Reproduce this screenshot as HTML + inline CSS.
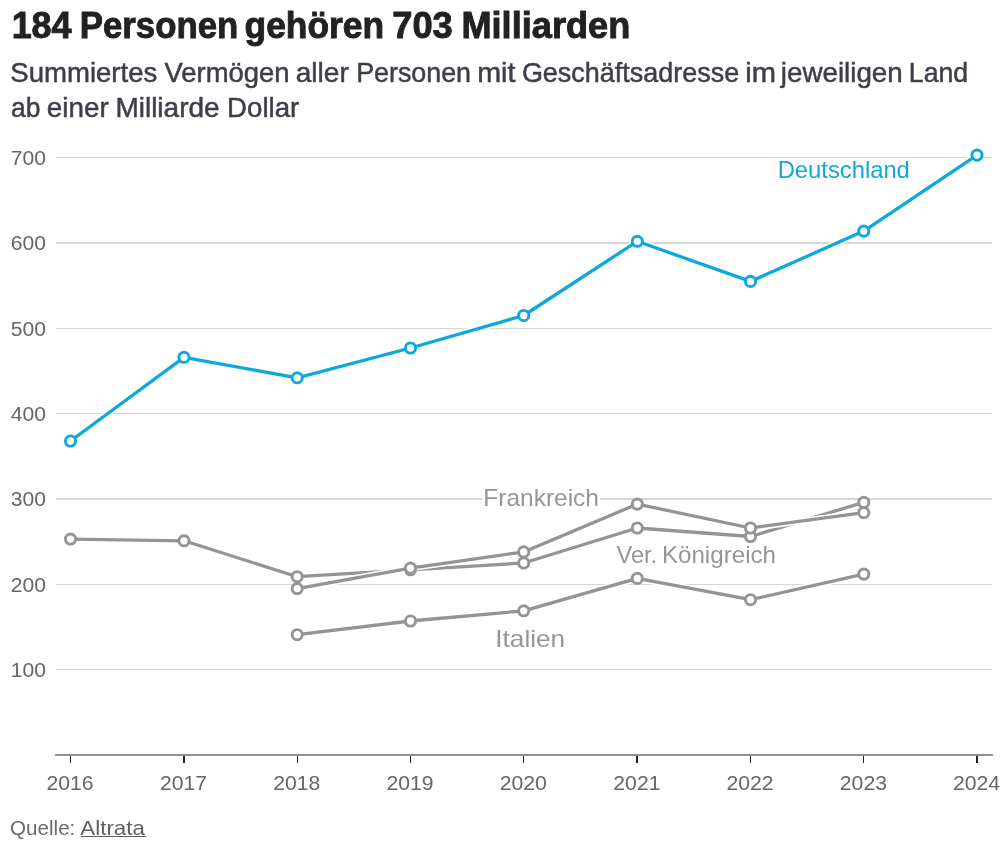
<!DOCTYPE html>
<html lang="de"><head><meta charset="utf-8"><title>184 Personen gehören 703 Milliarden</title>
<style>
html,body{margin:0;padding:0;background:#fff;}
body{width:1008px;height:841px;overflow:hidden;position:relative;font-family:"Liberation Sans",sans-serif;}
svg{position:absolute;left:0;top:0;display:block;}
text{font-family:"Liberation Sans",sans-serif;}
.ti{font-size:36.4px;font-weight:700;fill:#222;stroke:#222;stroke-width:.9px;}
.su{font-size:28px;fill:#3e3e49;stroke:#3e3e49;stroke-width:.5px;}
.ax{font-size:20px;fill:#666;}
.lb{font-size:24px;paint-order:stroke;stroke:#fff;stroke-width:6px;stroke-linejoin:round;}
.de{fill:#0ca8de;}
.gr{fill:#969696;}

.ft{font-size:19.8px;}
.q{fill:#6c6c6c;}
.a{fill:#5f5f5f;}
</style></head><body>
<svg width="1008" height="841" viewBox="0 0 1008 841">
<g id="header" role="heading">
<text id="t1" class="ti" x="11.64" y="38.00" textLength="59.94" lengthAdjust="spacingAndGlyphs">184</text>
<text id="t2" class="ti" x="79.75" y="38.00" textLength="158.51" lengthAdjust="spacingAndGlyphs">Personen</text>
<text id="t3" class="ti" x="244.52" y="38.00" textLength="139.61" lengthAdjust="spacingAndGlyphs">gehören</text>
<text id="t4" class="ti" x="392.27" y="38.00" textLength="60.48" lengthAdjust="spacingAndGlyphs">703</text>
<text id="t5" class="ti" x="461.41" y="38.00" textLength="168.92" lengthAdjust="spacingAndGlyphs">Milliarden</text>
<text id="s1" class="su" x="10.26" y="81.50" textLength="147.06" lengthAdjust="spacingAndGlyphs">Summiertes</text>
<text id="s2" class="su" x="164.50" y="81.50" textLength="124.97" lengthAdjust="spacingAndGlyphs">Vermögen</text>
<text id="s3" class="su" x="295.71" y="81.50" textLength="53.06" lengthAdjust="spacingAndGlyphs">aller</text>
<text id="s4" class="su" x="356.15" y="81.50" textLength="114.90" lengthAdjust="spacingAndGlyphs">Personen</text>
<text id="s5" class="su" x="477.15" y="81.50" textLength="38.25" lengthAdjust="spacingAndGlyphs">mit</text>
<text id="s6" class="su" x="521.92" y="81.50" textLength="217.23" lengthAdjust="spacingAndGlyphs">Geschäftsadresse</text>
<text id="s7" class="su" x="745.23" y="81.50" textLength="30.71" lengthAdjust="spacingAndGlyphs">im</text>
<text id="s8" class="su" x="780.85" y="81.50" textLength="121.88" lengthAdjust="spacingAndGlyphs">jeweiligen</text>
<text id="s9" class="su" x="908.81" y="81.50" textLength="59.33" lengthAdjust="spacingAndGlyphs">Land</text>
<text id="u1" class="su" x="11.09" y="117.30" textLength="29.40" lengthAdjust="spacingAndGlyphs">ab</text>
<text id="u2" class="su" x="46.75" y="117.30" textLength="61.92" lengthAdjust="spacingAndGlyphs">einer</text>
<text id="u3" class="su" x="115.41" y="117.30" textLength="104.20" lengthAdjust="spacingAndGlyphs">Milliarde</text>
<text id="u4" class="su" x="227.11" y="117.30" textLength="72.17" lengthAdjust="spacingAndGlyphs">Dollar</text>
</g>
<g id="chart">
<rect x="56" y="669" width="936" height="1" fill="#d6d6d6"/>
<text x="46.05" y="677.07" class="ax ay" text-anchor="end" textLength="35.20" lengthAdjust="spacingAndGlyphs">100</text>
<rect x="56" y="584" width="936" height="1" fill="#d6d6d6"/>
<text x="46.05" y="591.73" class="ax ay" text-anchor="end" textLength="35.20" lengthAdjust="spacingAndGlyphs">200</text>
<rect x="56" y="498" width="936" height="2" fill="#d6d6d6"/>
<text x="46.05" y="506.40" class="ax ay" text-anchor="end" textLength="35.20" lengthAdjust="spacingAndGlyphs">300</text>
<rect x="56" y="413" width="936" height="1" fill="#d6d6d6"/>
<text x="46.05" y="421.07" class="ax ay" text-anchor="end" textLength="35.20" lengthAdjust="spacingAndGlyphs">400</text>
<rect x="56" y="328" width="936" height="1" fill="#d6d6d6"/>
<text x="46.05" y="335.73" class="ax ay" text-anchor="end" textLength="35.20" lengthAdjust="spacingAndGlyphs">500</text>
<rect x="56" y="242" width="936" height="2" fill="#d6d6d6"/>
<text x="46.05" y="250.40" class="ax ay" text-anchor="end" textLength="35.20" lengthAdjust="spacingAndGlyphs">600</text>
<rect x="56" y="157" width="936" height="1" fill="#d6d6d6"/>
<text x="46.05" y="165.07" class="ax ay" text-anchor="end" textLength="35.20" lengthAdjust="spacingAndGlyphs">700</text>
<rect x="55" y="754" width="938" height="2" fill="#8e8e90"/>
<rect x="70" y="756" width="1" height="7" fill="#222"/>
<text x="70.0" y="790.1" class="ax axx" text-anchor="middle" textLength="47.10" lengthAdjust="spacingAndGlyphs">2016</text>
<rect x="183" y="756" width="2" height="7" fill="#222"/>
<text x="183.6" y="790.1" class="ax axx" text-anchor="middle" textLength="47.10" lengthAdjust="spacingAndGlyphs">2017</text>
<rect x="297" y="756" width="1" height="7" fill="#222"/>
<text x="296.8" y="790.1" class="ax axx" text-anchor="middle" textLength="47.10" lengthAdjust="spacingAndGlyphs">2018</text>
<rect x="410" y="756" width="1" height="7" fill="#222"/>
<text x="410.1" y="790.1" class="ax axx" text-anchor="middle" textLength="47.10" lengthAdjust="spacingAndGlyphs">2019</text>
<rect x="523" y="756" width="1" height="7" fill="#222"/>
<text x="523.3" y="790.1" class="ax axx" text-anchor="middle" textLength="47.10" lengthAdjust="spacingAndGlyphs">2020</text>
<rect x="636" y="756" width="2" height="7" fill="#222"/>
<text x="636.9" y="790.1" class="ax axx" text-anchor="middle" textLength="47.10" lengthAdjust="spacingAndGlyphs">2021</text>
<rect x="750" y="756" width="1" height="7" fill="#222"/>
<text x="750.1" y="790.1" class="ax axx" text-anchor="middle" textLength="47.10" lengthAdjust="spacingAndGlyphs">2022</text>
<rect x="863" y="756" width="1" height="7" fill="#222"/>
<text x="863.4" y="790.1" class="ax axx" text-anchor="middle" textLength="47.10" lengthAdjust="spacingAndGlyphs">2023</text>
<rect x="976" y="756" width="2" height="7" fill="#222"/>
<text x="976.6" y="790.1" class="ax axx" text-anchor="middle" textLength="47.10" lengthAdjust="spacingAndGlyphs">2024</text>
<path d="M297.2,634.7 L410.5,621.0 L523.7,610.8 L637.3,578.4 L750.5,599.7 L863.8,574.1" fill="none" stroke="#fff" stroke-width="6.3" stroke-linejoin="round" stroke-linecap="round"/>
<path d="M297.2,634.7 L410.5,621.0 L523.7,610.8 L637.3,578.4 L750.5,599.7 L863.8,574.1" fill="none" stroke="#949494" stroke-width="3.3" stroke-linejoin="round" stroke-linecap="round"/>
<circle cx="297.2" cy="634.7" r="5.1" fill="#fff" stroke="#949494" stroke-width="2.9"/>
<circle cx="410.5" cy="621.0" r="5.1" fill="#fff" stroke="#949494" stroke-width="2.9"/>
<circle cx="523.7" cy="610.8" r="5.1" fill="#fff" stroke="#949494" stroke-width="2.9"/>
<circle cx="637.3" cy="578.4" r="5.1" fill="#fff" stroke="#949494" stroke-width="2.9"/>
<circle cx="750.5" cy="599.7" r="5.1" fill="#fff" stroke="#949494" stroke-width="2.9"/>
<circle cx="863.8" cy="574.1" r="5.1" fill="#fff" stroke="#949494" stroke-width="2.9"/>

<path d="M70.5,539.1 L184.0,540.8 L297.2,576.7 L410.5,569.8 L523.7,563.0 L637.3,528.0 L750.5,536.5 L863.8,502.4" fill="none" stroke="#fff" stroke-width="6.3" stroke-linejoin="round" stroke-linecap="round"/>
<path d="M70.5,539.1 L184.0,540.8 L297.2,576.7 L410.5,569.8 L523.7,563.0 L637.3,528.0 L750.5,536.5 L863.8,502.4" fill="none" stroke="#949494" stroke-width="3.3" stroke-linejoin="round" stroke-linecap="round"/>
<circle cx="70.5" cy="539.1" r="5.1" fill="#fff" stroke="#949494" stroke-width="2.9"/>
<circle cx="184.0" cy="540.8" r="5.1" fill="#fff" stroke="#949494" stroke-width="2.9"/>
<circle cx="297.2" cy="576.7" r="5.1" fill="#fff" stroke="#949494" stroke-width="2.9"/>
<circle cx="410.5" cy="569.8" r="5.1" fill="#fff" stroke="#949494" stroke-width="2.9"/>
<circle cx="523.7" cy="563.0" r="5.1" fill="#fff" stroke="#949494" stroke-width="2.9"/>
<circle cx="637.3" cy="528.0" r="5.1" fill="#fff" stroke="#949494" stroke-width="2.9"/>
<circle cx="750.5" cy="536.5" r="5.1" fill="#fff" stroke="#949494" stroke-width="2.9"/>
<circle cx="863.8" cy="502.4" r="5.1" fill="#fff" stroke="#949494" stroke-width="2.9"/>

<path d="M297.2,588.6 L410.5,568.1 L523.7,551.9 L637.3,504.1 L750.5,528.0 L863.8,512.7" fill="none" stroke="#fff" stroke-width="6.3" stroke-linejoin="round" stroke-linecap="round"/>
<path d="M297.2,588.6 L410.5,568.1 L523.7,551.9 L637.3,504.1 L750.5,528.0 L863.8,512.7" fill="none" stroke="#949494" stroke-width="3.3" stroke-linejoin="round" stroke-linecap="round"/>
<circle cx="297.2" cy="588.6" r="5.1" fill="#fff" stroke="#949494" stroke-width="2.9"/>
<circle cx="410.5" cy="568.1" r="5.1" fill="#fff" stroke="#949494" stroke-width="2.9"/>
<circle cx="523.7" cy="551.9" r="5.1" fill="#fff" stroke="#949494" stroke-width="2.9"/>
<circle cx="637.3" cy="504.1" r="5.1" fill="#fff" stroke="#949494" stroke-width="2.9"/>
<circle cx="750.5" cy="528.0" r="5.1" fill="#fff" stroke="#949494" stroke-width="2.9"/>
<circle cx="863.8" cy="512.7" r="5.1" fill="#fff" stroke="#949494" stroke-width="2.9"/>

<path d="M70.5,441.0 L184.0,357.3 L297.2,377.8 L410.5,348.0 L523.7,315.5 L637.3,241.3 L750.5,281.4 L863.8,231.1 L977.0,155.1" fill="none" stroke="#fff" stroke-width="6.3" stroke-linejoin="round" stroke-linecap="round"/>
<path d="M70.5,441.0 L184.0,357.3 L297.2,377.8 L410.5,348.0 L523.7,315.5 L637.3,241.3 L750.5,281.4 L863.8,231.1 L977.0,155.1" fill="none" stroke="#0ca8de" stroke-width="3.3" stroke-linejoin="round" stroke-linecap="round"/>
<circle cx="70.5" cy="441.0" r="5.1" fill="#fff" stroke="#0ca8de" stroke-width="2.9"/>
<circle cx="184.0" cy="357.3" r="5.1" fill="#fff" stroke="#0ca8de" stroke-width="2.9"/>
<circle cx="297.2" cy="377.8" r="5.1" fill="#fff" stroke="#0ca8de" stroke-width="2.9"/>
<circle cx="410.5" cy="348.0" r="5.1" fill="#fff" stroke="#0ca8de" stroke-width="2.9"/>
<circle cx="523.7" cy="315.5" r="5.1" fill="#fff" stroke="#0ca8de" stroke-width="2.9"/>
<circle cx="637.3" cy="241.3" r="5.1" fill="#fff" stroke="#0ca8de" stroke-width="2.9"/>
<circle cx="750.5" cy="281.4" r="5.1" fill="#fff" stroke="#0ca8de" stroke-width="2.9"/>
<circle cx="863.8" cy="231.1" r="5.1" fill="#fff" stroke="#0ca8de" stroke-width="2.9"/>
<circle cx="977.0" cy="155.1" r="5.1" fill="#fff" stroke="#0ca8de" stroke-width="2.9"/>

<g id="series-labels">
<text id="l1" class="lb de" x="777.68" y="178.30" textLength="132.17" lengthAdjust="spacingAndGlyphs">Deutschland</text>
<text id="l2" class="lb gr" x="483.38" y="505.50" textLength="115.60" lengthAdjust="spacingAndGlyphs">Frankreich</text>
<text id="l3" class="lb gr" x="616.44" y="562.50" textLength="40.71" lengthAdjust="spacingAndGlyphs">Ver.</text>
<text id="l4" class="lb gr" x="661.93" y="562.50" textLength="114.07" lengthAdjust="spacingAndGlyphs">Königreich</text>
<text id="l5" class="lb gr" x="495.37" y="646.60" textLength="69.68" lengthAdjust="spacingAndGlyphs">Italien</text>
</g>
</g>
<g id="footer">
<text id="f1" class="ft q" x="10.10" y="834.60" textLength="65.26" lengthAdjust="spacingAndGlyphs">Quelle:</text>
<a href="#quelle"><text id="f2" class="ft a" x="80.36" y="834.60" textLength="64.45" lengthAdjust="spacingAndGlyphs">Altrata</text><rect x="80.7" y="836" width="65.4" height="1" fill="#5c5c5c"/></a>
</g>
</svg>
</body></html>
